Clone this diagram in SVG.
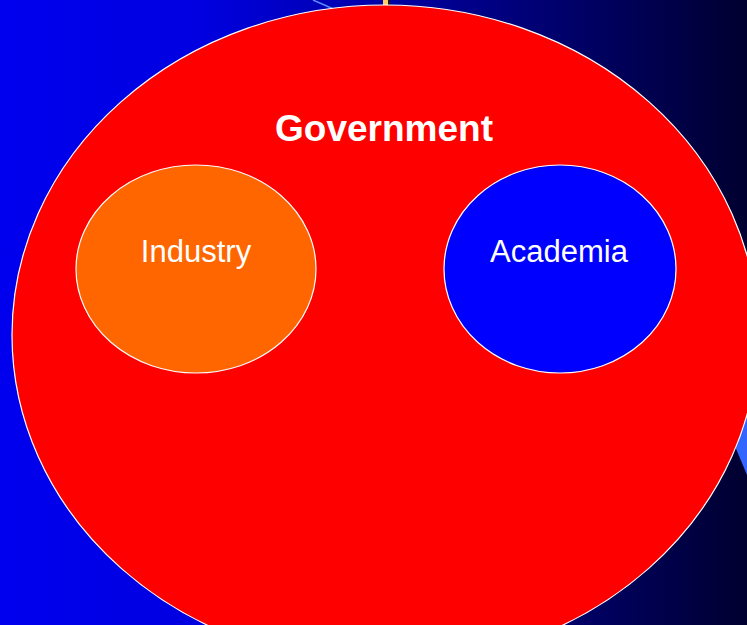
<svg xmlns="http://www.w3.org/2000/svg" width="747" height="625" viewBox="0 0 747 625">
<defs>
<linearGradient id="bg" x1="0" y1="0" x2="747" y2="0" gradientUnits="userSpaceOnUse">
<stop offset="0" stop-color="#0000EE"/>
<stop offset="0.27" stop-color="#0000E0"/>
<stop offset="1" stop-color="#000030"/>
</linearGradient>
<style>
.circle{stroke:#FFFFFF;stroke-width:1.2}
.lbl{font-family:"Liberation Sans",Arial,sans-serif;fill:#FFFFFF;text-anchor:middle}
</style>
</defs>
<rect x="0" y="0" width="747" height="625" fill="url(#bg)"/>
<g id="background-shapes">
<line x1="313" y1="0" x2="345" y2="14" stroke="#5A8CFF" stroke-width="1.5"/>
<rect x="383" y="0" width="5" height="6" fill="#FFCC66"/>
<rect x="388" y="0" width="2" height="6" fill="#1A1A1A"/>
<polygon points="699,360 820,300 820,650" fill="#3366FF"/>
</g>
<g id="government">
<ellipse class="circle" cx="385" cy="335" rx="373" ry="330" fill="#FF0000"/>
<text class="lbl" x="384" y="141" font-size="37" font-weight="bold">Government</text>
</g>
<g id="industry">
<ellipse class="circle" cx="196" cy="269" rx="120" ry="104" fill="#FF6600"/>
<text class="lbl" x="196" y="262" font-size="31">Industry</text>
</g>
<g id="academia">
<ellipse class="circle" cx="560" cy="269" rx="116" ry="104" fill="#0000FF"/>
<text class="lbl" x="559" y="262" font-size="31">Academia</text>
</g>
<g id="connectors"></g>
</svg>
